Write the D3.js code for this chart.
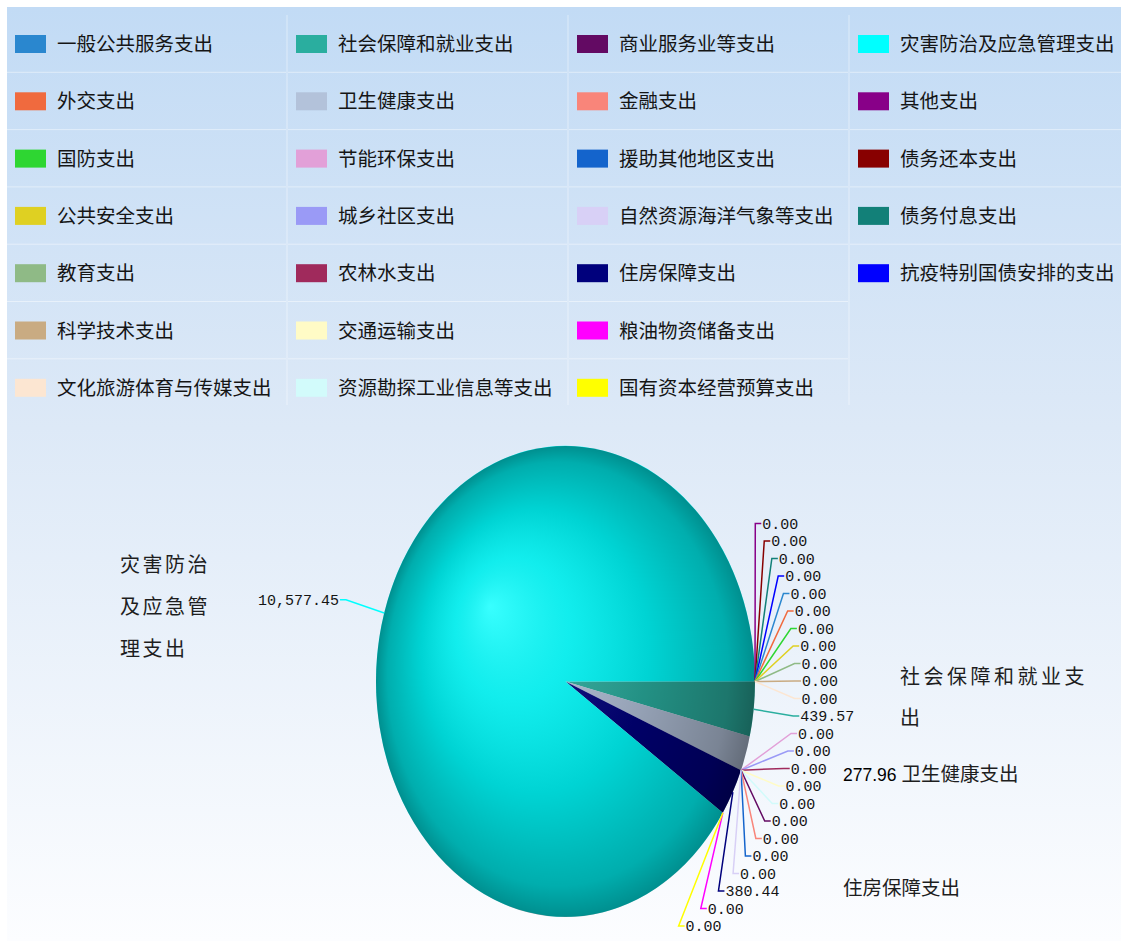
<!DOCTYPE html>
<html>
<head>
<meta charset="utf-8">
<script src="https://cdn.jsdelivr.net/npm/d3@7"></script>
<style>
  html, body { margin: 0; padding: 0; background: #ffffff; }
  svg { display: block; }
</style>
</head>
<body>
<div id="chart"></div>
<script>
// ---------------- DATA ----------------
const categories = [
  "一般公共服务支出", "外交支出", "国防支出", "公共安全支出", "教育支出", "科学技术支出", "文化旅游体育与传媒支出",
  "社会保障和就业支出", "卫生健康支出", "节能环保支出", "城乡社区支出", "农林水支出", "交通运输支出", "资源勘探工业信息等支出",
  "商业服务业等支出", "金融支出", "援助其他地区支出", "自然资源海洋气象等支出", "住房保障支出", "粮油物资储备支出", "国有资本经营预算支出",
  "灾害防治及应急管理支出", "其他支出", "债务还本支出", "债务付息支出", "抗疫特别国债安排的支出"
];
const values = [
  0, 0, 0, 0, 0, 0, 0,
  439.57, 277.96, 0, 0, 0, 0, 0,
  0, 0, 0, 0, 380.44, 0, 0,
  10577.45, 0, 0, 0, 0
];
const colors = [
  "#2a87cf", "#f06a3e", "#2ed632", "#dfd022", "#8fba86", "#c9ab82", "#fce6d2",
  "#2aae9f", "#b3c2da", "#e2a0d8", "#9a9af6", "#a02a5c", "#fffbc6", "#d2fbfb",
  "#630a63", "#f9857a", "#1464cc", "#d8d0f6", "#00007c", "#ff00ff", "#ffff00",
  "#00ffff", "#880088", "#880000", "#128078", "#0000ff"
];
// categories shown with a text annotation instead of a value label on the fan
const annotatedValue = ["卫生健康支出"];
const annotatedNames = ["灾害防治及应急管理支出", "社会保障和就业支出", "住房保障支出"];

// ---------------- LAYOUT ----------------
const W = 1121, H = 941;
const svg = d3.select("#chart").append("svg").attr("width", W).attr("height", H);
const defs = svg.append("defs");

const bg = defs.append("linearGradient").attr("id", "bg").attr("x1", 0).attr("y1", 0).attr("x2", 0).attr("y2", 1);
bg.append("stop").attr("offset", 0).attr("stop-color", "#c2dbf5");
bg.append("stop").attr("offset", 0.45).attr("stop-color", "#dde9f7");
bg.append("stop").attr("offset", 1).attr("stop-color", "#fcfdff");
svg.append("rect").attr("x", 7).attr("y", 7).attr("width", W - 7).attr("height", H - 7).attr("fill", "url(#bg)");

const data = categories.map((c, i) => ({ name: c, value: values[i], color: colors[i], index: i }));

// ---------------- LEGEND ----------------
const legendRows = 7, colW = 281, rowH = 57.3, legX = 10, legY = 15;
const legend = svg.append("g");
const nCols = Math.ceil(data.length / legendRows);
for (let c = 0; c < nCols; c++) {
  const inCol = data.filter((d, i) => Math.floor(i / legendRows) === c).length;
  for (let r = 1; r < inCol; r++) {
    legend.append("line")
      .attr("x1", legX + c * colW - 3).attr("x2", legX + (c + 1) * colW - 5)
      .attr("y1", legY + r * rowH).attr("y2", legY + r * rowH)
      .attr("stroke", "#ffffff").attr("stroke-opacity", 0.45).attr("stroke-width", 1);
  }
  if (c > 0) {
    legend.append("line")
      .attr("x1", legX + c * colW - 4).attr("x2", legX + c * colW - 4)
      .attr("y1", legY).attr("y2", legY + legendRows * rowH - 11)
      .attr("stroke", "#ffffff").attr("stroke-opacity", 0.45).attr("stroke-width", 1);
  }
}
const items = legend.selectAll("g.item").data(data).join("g").attr("class", "item")
  .attr("transform", (d, i) => `translate(${legX + Math.floor(i / legendRows) * colW},${legY + (i % legendRows) * rowH})`);
items.append("rect").attr("x", 5).attr("y", 20).attr("width", 31).attr("height", 18).attr("fill", d => d.color);
items.append("text").attr("x", 47).attr("y", 29).attr("dy", "0.36em")
  .attr("font-family", "'Noto Sans CJK SC', sans-serif").attr("font-size", 19.5).attr("fill", "#151515")
  .text(d => d.name);

// ---------------- PIE ----------------
const cx = 565.5, cy = 681.5, rx = 189.5, ry = 235.5;
const rxL = rx + 40, ryL = ry + 45.5;

const pie = d3.pie().value(d => d.value).sort(null)
  .startAngle(Math.PI / 2).endAngle(Math.PI / 2 + 2 * Math.PI);
const arcs = pie(data);
const arcGen = d3.arc().innerRadius(0).outerRadius(1);

const pieG = svg.append("g").attr("transform", `translate(${cx},${cy}) scale(${rx},${ry})`);
pieG.selectAll("path").data(arcs.filter(a => a.value > 0)).join("path")
  .attr("d", arcGen).attr("fill", a => a.data.color);

// 3D shading overlay
const shade = defs.append("radialGradient").attr("id", "shade")
  .attr("cx", 0.5).attr("cy", 0.5).attr("r", 0.5).attr("fx", 0.3).attr("fy", 0.34);
shade.append("stop").attr("offset", 0).attr("stop-color", "#ffffff").attr("stop-opacity", 0.22);
shade.append("stop").attr("offset", 0.3).attr("stop-color", "#808080").attr("stop-opacity", 0.14);
shade.append("stop").attr("offset", 0.6).attr("stop-color", "#000000").attr("stop-opacity", 0.17);
shade.append("stop").attr("offset", 0.9).attr("stop-color", "#000000").attr("stop-opacity", 0.32);
shade.append("stop").attr("offset", 1).attr("stop-color", "#000000").attr("stop-opacity", 0.44);
svg.append("ellipse").attr("cx", cx).attr("cy", cy).attr("rx", rx).attr("ry", ry).attr("fill", "url(#shade)");

// ---------------- VALUE LABELS ----------------
const fmt = d3.format(",.2f");
arcs.forEach(a => {
  const theta = (a.startAngle + a.endAngle) / 2 - Math.PI / 2; // clockwise from east
  a.theta = theta;
  a.ax = cx + rx * Math.cos(theta);
  a.ay = cy + ry * Math.sin(theta);
  a.key = theta > Math.PI ? theta - 2 * Math.PI - 1e-9 : theta;
  a.ly0 = cy + ryL * Math.sin(theta);
});
const labelled = arcs.filter(a => !annotatedValue.includes(a.data.name));
const right = labelled.filter(a => Math.cos(a.theta) >= 0).sort((a, b) => a.key - b.key);
const left = labelled.filter(a => Math.cos(a.theta) < 0);

// spread right-side labels vertically (cluster merge), keep inside the page
const h = 17.5, maxY = H - 15;
let clusters = right.map(a => [a]);
const clTop = c => {
  const t = d3.mean(c, a => a.ly0) - (c.length - 1) * h / 2;
  return Math.min(t, maxY - (c.length - 1) * h);
};
let merged = true;
while (merged) {
  merged = false;
  for (let i = 0; i < clusters.length - 1; i++) {
    const a = clusters[i], b = clusters[i + 1];
    if (clTop(b) - (clTop(a) + (a.length - 1) * h) < h) {
      clusters.splice(i, 2, a.concat(b));
      merged = true;
      break;
    }
  }
}
clusters.forEach(c => {
  const t = clTop(c);
  c.forEach((a, i) => {
    a.ly = t + i * h;
    const k = Math.max(0, 1 - Math.pow((a.ly - cy) / ryL, 2));
    a.lx = cx + rxL * Math.sqrt(k);
    a.side = 1;
  });
});
left.forEach(a => {
  a.ly = a.ly0;
  a.lx = cx + rxL * Math.cos(a.theta);
  a.side = -1;
});

const labels = right.concat(left);
const lg = svg.append("g");
lg.selectAll("polyline").data(labels).join("polyline")
  .attr("points", a => `${a.ax},${a.ay} ${a.lx},${a.ly} ${a.lx + 6 * a.side},${a.ly}`)
  .attr("fill", "none").attr("stroke", a => a.data.color).attr("stroke-width", 1.5);
lg.selectAll("text").data(labels).join("text")
  .attr("x", a => a.lx + 7 * a.side).attr("y", a => a.ly)
  .attr("dy", "0.36em")
  .attr("text-anchor", a => a.side > 0 ? "start" : "end")
  .attr("font-family", "'Liberation Mono', 'DejaVu Sans Mono', monospace")
  .attr("font-size", 15).attr("fill", "#141414")
  .text(a => fmt(a.value));

// ---------------- ANNOTATIONS ----------------
const cjk = "'Noto Sans CJK SC', sans-serif";
function wrapChars(s, n) { const out = []; for (let i = 0; i < s.length; i += n) out.push(s.slice(i, i + n)); return out; }
const ann = svg.append("g").attr("fill", "#1e1e1e").attr("font-family", cjk);
const annSpecs = [
  { name: annotatedNames[0], x: 120, y: 565, per: 4, gap: 42, size: 20, ls: 2.5 },
  { name: annotatedNames[1], x: 900, y: 677, per: 8, gap: 41, size: 20, ls: 3.5 },
  { name: annotatedNames[2], x: 843, y: 888, per: 8, gap: 41, size: 19.5, ls: 0 }
];
annSpecs.forEach(s => {
  wrapChars(s.name, s.per).forEach((line, i) => {
    ann.append("text").attr("x", s.x).attr("y", s.y + i * s.gap).attr("dy", "0.36em")
      .attr("font-size", s.size).attr("letter-spacing", s.ls).text(line);
  });
});
const healthIdx = categories.indexOf(annotatedValue[0]);
const ht = ann.append("text").attr("x", 843).attr("y", 775).attr("dy", "0.36em");
ht.append("tspan").attr("font-family", "'Liberation Sans', 'Open Sans', sans-serif").attr("font-size", 17.5)
  .attr("fill", "#000").text(fmt(values[healthIdx]) + " ");
ht.append("tspan").attr("font-size", 19.5).text(categories[healthIdx]);
</script>
</body>
</html>
